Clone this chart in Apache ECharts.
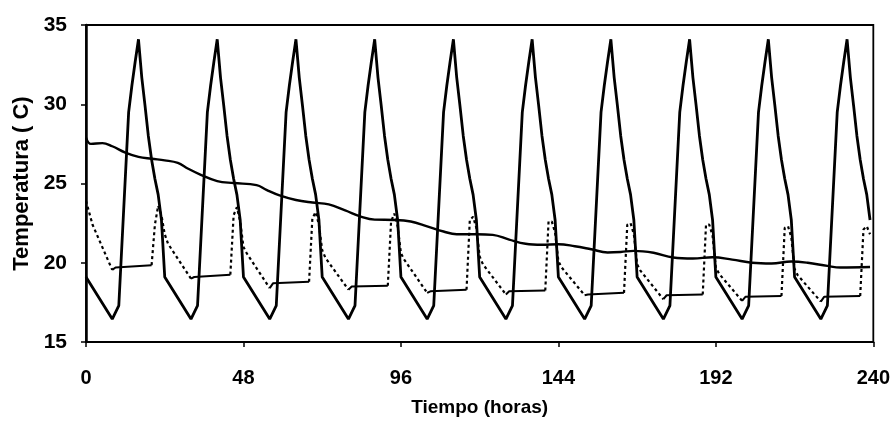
<!DOCTYPE html>
<html>
<head>
<meta charset="utf-8">
<script src="https://cdn.jsdelivr.net/npm/echarts@6/dist/echarts.min.js"></script>
<style>
  html, body { margin: 0; background: #fff; }
  #chart { width: 893px; height: 422px; }
</style>
</head>
<body>
<div id="chart"></div>
<script>
// ticks
const xTicks = [0, 48, 96, 144, 192, 240];
const yTicks = [15, 20, 25, 30, 35];

// ambient temperature, same profile every day (hour of day -> C)
const days = [0, 1, 2, 3, 4, 5, 6, 7, 8, 9];
const ambientHours = [0, 8, 10, 13, 14, 15, 16, 17, 18, 19, 20, 21, 22, 23];
const ambientDay = [19.1, 16.45, 17.3, 29.5, 31.2, 32.7, 34.1, 31.7, 29.9, 28.0, 26.5, 25.3, 24.3, 22.7];

// slow curve (hour, C)
const slowHours = [0, 1.5, 5, 8, 12, 16, 20, 24, 28, 31, 35, 40, 45, 52, 55, 59, 64, 69, 74, 79, 84, 88, 94,
  99, 104, 109, 113, 119, 124, 129, 134, 139, 144, 149, 154, 159, 163, 167, 173, 179, 185, 191, 197, 203,
  209, 215, 220, 226, 230, 239];
const slowValues = [27.9, 27.5, 27.55, 27.35, 26.95, 26.68, 26.56, 26.46, 26.3, 25.95, 25.55, 25.15, 25.03,
  24.9, 24.6, 24.25, 23.96, 23.8, 23.68, 23.3, 22.9, 22.72, 22.7, 22.6, 22.3, 21.97, 21.8, 21.8, 21.76, 21.46,
  21.2, 21.14, 21.17, 21.04, 20.85, 20.65, 20.68, 20.75, 20.63, 20.33, 20.27, 20.35, 20.2, 20.0, 19.95, 20.08,
  20.0, 19.8, 19.7, 19.73];

// interior temperature per day: [hour of day, C]
const interiorDays = [
  [[0, 23.9], [2, 22.4], [8, 19.55], [9, 19.7], [20, 19.85], [21, 22.4], [22, 23.6], [23, 23.0]],
  [[0, 21.8], [1, 21.2], [8, 19.0], [9, 19.1], [20, 19.25], [21, 23.0], [22, 23.5], [23, 22.6]],
  [[0, 21.0], [1, 20.6], [8, 18.4], [9, 18.7], [20, 18.8], [21, 22.8], [22, 23.2], [23, 22.4]],
  [[0, 20.8], [1, 20.3], [8, 18.3], [9, 18.5], [20, 18.55], [21, 22.6], [22, 23.1], [23, 22.3]],
  [[0, 20.6], [1, 20.2], [8, 18.1], [9, 18.2], [20, 18.3], [21, 22.7], [22, 22.9], [23, 22.2]],
  [[0, 20.4], [1, 19.9], [8, 18.0], [9, 18.2], [20, 18.25], [21, 22.6], [22, 22.6], [23, 21.9]],
  [[0, 20.1], [1, 19.7], [8, 17.95], [9, 18.0], [20, 18.1], [21, 22.4], [22, 22.5], [23, 21.8]],
  [[0, 19.9], [1, 19.5], [8, 17.7], [9, 17.95], [20, 18.0], [21, 22.4], [22, 22.4], [23, 21.7]],
  [[0, 19.7], [1, 19.3], [8, 17.6], [9, 17.85], [20, 17.9], [21, 22.2], [22, 22.3], [23, 21.6]],
  [[0, 19.6], [1, 19.2], [8, 17.55], [9, 17.85], [20, 17.9], [21, 22.1], [22, 22.3], [23, 21.8]]
];

const ambient = [];
days.forEach((d) => {
  ambientHours.forEach((t, i) => ambient.push([d * 24 + t, ambientDay[i]]));
});

const slow = slowHours.map((h, i) => [h, slowValues[i]]);

// dotted part (cooling and jump), solid part (held flat)
const interiorDotted = [];
const interiorFlat = [];
interiorDays.forEach((row, d) => {
  row.forEach(([t, v]) => {
    const h = d * 24 + t;
    interiorDotted.push([h, t > 8 && t < 20 ? '-' : v]);
    interiorFlat.push([h, t >= 8 && t <= 20 ? v : '-']);
  });
});

const chart = echarts.init(document.getElementById('chart'));
const font = 'Liberation Sans, Arial, sans-serif';

chart.setOption({
  animation: false,
  grid: {
    left: 86, right: 18, top: 25, bottom: 77,
    show: true, borderColor: '#000', borderWidth: 1.8
  },
  xAxis: {
    type: 'value',
    min: xTicks[0],
    max: xTicks[xTicks.length - 1],
    interval: 48,
    name: 'Tiempo (horas)',
    nameLocation: 'middle',
    nameGap: 56,
    nameTextStyle: { color: '#000', fontFamily: font, fontWeight: 'bold', fontSize: 19 },
    axisLine: { lineStyle: { color: '#000', width: 2 } },
    axisTick: { show: true, length: 5, lineStyle: { color: '#000', width: 1.5 } },
    axisLabel: { color: '#000', fontFamily: font, fontWeight: 'bold', fontSize: 20, margin: 26 },
    splitLine: { show: false }
  },
  yAxis: {
    type: 'value',
    min: yTicks[0],
    max: yTicks[yTicks.length - 1],
    interval: 5,
    name: 'Temperatura ( C)',
    nameLocation: 'middle',
    nameGap: 51,
    nameTextStyle: { color: '#000', fontFamily: font, fontWeight: 'bold', fontSize: 22 },
    axisLine: { show: true, lineStyle: { color: '#000', width: 2.5 } },
    axisTick: { show: true, length: 5, lineStyle: { color: '#000', width: 1.5 } },
    axisLabel: { color: '#000', fontFamily: font, fontWeight: 'bold', fontSize: 21, margin: 19 },
    splitLine: { show: false }
  },
  series: [
    {
      name: 'Interior',
      type: 'line',
      data: interiorDotted,
      showSymbol: false,
      lineStyle: { color: '#000', width: 2.2, type: [3, 3] },
      z: 2
    },
    {
      name: 'Interior (constante)',
      type: 'line',
      data: interiorFlat,
      showSymbol: false,
      lineStyle: { color: '#000', width: 2 },
      z: 2
    },
    {
      name: 'Lenta',
      type: 'line',
      data: slow,
      smooth: 0.4,
      showSymbol: false,
      lineStyle: { color: '#000', width: 2.4 },
      z: 3
    },
    {
      name: 'Ambiente',
      type: 'line',
      data: ambient,
      showSymbol: false,
      lineStyle: { color: '#000', width: 2.8 },
      z: 4
    }
  ]
});
</script>
</body>
</html>
